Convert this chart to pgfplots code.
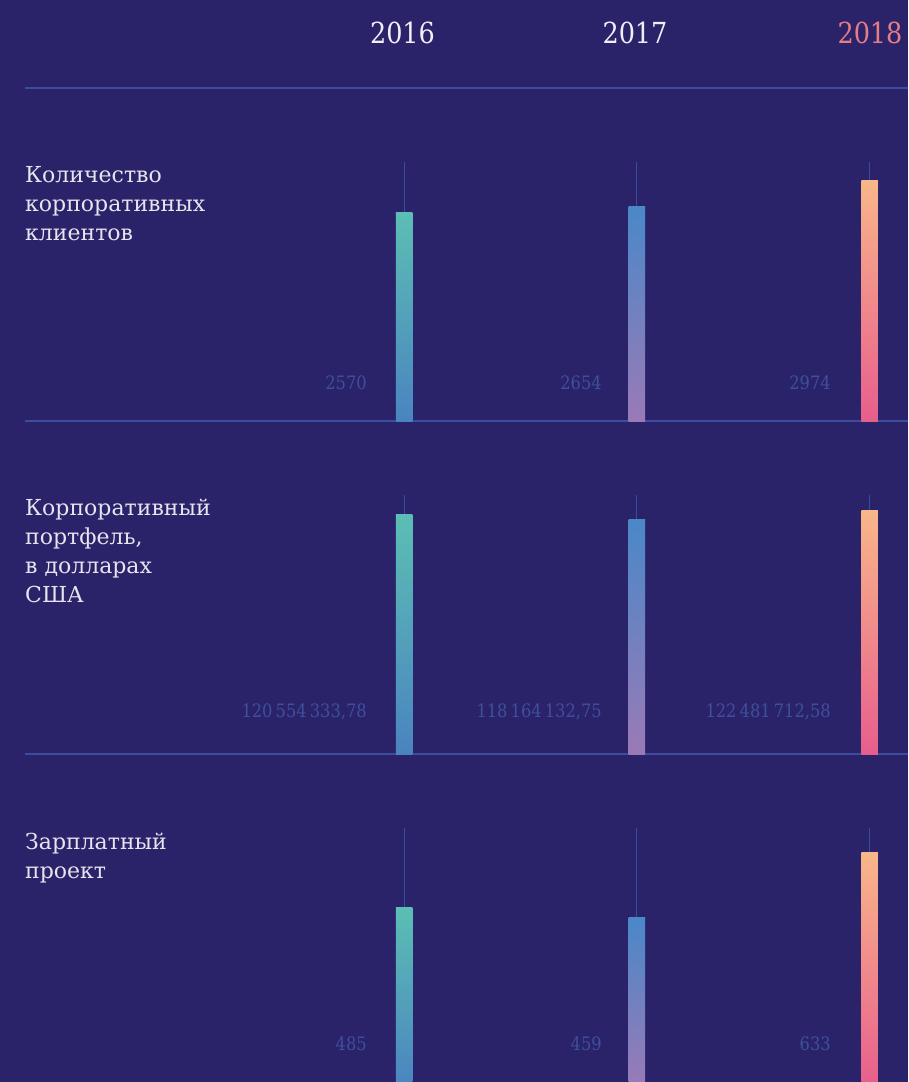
\documentclass[border=0pt]{standalone}
\usepackage{pgfplots}
\pgfplotsset{compat=1.18}
\usepackage{fontspec}
\setmainfont{DejaVu Serif}[FakeStretch=0.88]
\newfontfamily\lblfamily{DejaVu Serif}
\definecolor{bg}{HTML}{2A2369}
\definecolor{rule}{HTML}{3C4C9E}
\definecolor{guide}{HTML}{3A4C9A}
\definecolor{val}{HTML}{3F4F9C}
\definecolor{lbl}{HTML}{E6E4EE}
\definecolor{yr}{HTML}{F0EEF6}
\definecolor{yrhi}{HTML}{E57C86}
\definecolor{atop}{HTML}{5CBEB4}
\definecolor{abot}{HTML}{4A84C0}
\definecolor{btop}{HTML}{4A88C8}
\definecolor{bbot}{HTML}{9A7AB6}
\definecolor{ctop}{HTML}{F9B68A}
\definecolor{cbot}{HTML}{E75E8C}
\pgfplotsset{
  row/.style={scale only axis, width=883pt, height=259pt, xmin=-1.628, xmax=2.165,
    ymin=0, hide axis, clip=false, anchor=south west},
  gl/.style={guide, line width=1pt, forget plot},
  barA/.style={ybar, bar width=16.5pt, bar shift=0pt, draw=none, top color=atop, bottom color=abot},
  barB/.style={ybar, bar width=16.5pt, bar shift=0pt, draw=none, top color=btop, bottom color=bbot},
  barC/.style={ybar, bar width=16.5pt, bar shift=0pt, draw=none, top color=ctop, bottom color=cbot},
}
\newcommand{\valfont}{\fontsize{18.5}{22}\selectfont}
\newcommand{\lblfont}{\lblfamily\fontsize{22}{29}\selectfont}
\begin{document}
\begin{tikzpicture}
\fill[bg] (0,0) rectangle (908pt,-1082pt);
% years
\node[anchor=base, text=yr, font=\fontsize{29}{32}\selectfont] at (402.5pt,-43pt) {2016};
\node[anchor=base, text=yr, font=\fontsize{29}{32}\selectfont] at (635pt,-43pt) {2017};
\node[anchor=base, text=yrhi, font=\fontsize{29}{32}\selectfont] at (870pt,-43pt) {2018};
\draw[rule, line width=1.2pt] (25pt,-88pt) -- (908pt,-88pt);
\draw[rule, line width=1.2pt] (25pt,-421pt) -- (908pt,-421pt);
\draw[rule, line width=1.2pt] (25pt,-754pt) -- (908pt,-754pt);
% row labels
\node[anchor=base west, text=lbl, font=\lblfont, inner sep=0pt] at (25pt,-182pt) {Количество};
\node[anchor=base west, text=lbl, font=\lblfont, inner sep=0pt] at (25pt,-211pt) {корпоративных};
\node[anchor=base west, text=lbl, font=\lblfont, inner sep=0pt] at (25pt,-240pt) {клиентов};
\node[anchor=base west, text=lbl, font=\lblfont, inner sep=0pt] at (25pt,-515pt) {Корпоративный};
\node[anchor=base west, text=lbl, font=\lblfont, inner sep=0pt] at (25pt,-544pt) {портфель,};
\node[anchor=base west, text=lbl, font=\lblfont, inner sep=0pt] at (25pt,-573pt) {в долларах};
\node[anchor=base west, text=lbl, font=\lblfont, inner sep=0pt] at (25pt,-602pt) {США};
\node[anchor=base west, text=lbl, font=\lblfont, inner sep=0pt] at (25pt,-849pt) {Зарплатный};
\node[anchor=base west, text=lbl, font=\lblfont, inner sep=0pt] at (25pt,-878pt) {проект};
% row 1
\begin{axis}[row, at={(25pt,-421pt)}, ymax=3200]
\addplot[gl] coordinates {(0,2570) (0,3200)};
\addplot[gl] coordinates {(1,2654) (1,3200)};
\addplot[gl] coordinates {(2,2974) (2,3200)};
\addplot[barA] coordinates {(0,2570)};
\addplot[barB] coordinates {(1,2654)};
\addplot[barC] coordinates {(2,2974)};
\end{axis}
% row 2 (millions USD)
\begin{axis}[row, at={(25pt,-754pt)}, ymax=130.5]
\addplot[gl] coordinates {(0,120.554) (0,130.5)};
\addplot[gl] coordinates {(1,118.164) (1,130.5)};
\addplot[gl] coordinates {(2,122.482) (2,130.5)};
\addplot[barA] coordinates {(0,120.554)};
\addplot[barB] coordinates {(1,118.164)};
\addplot[barC] coordinates {(2,122.482)};
\end{axis}
% row 3
\begin{axis}[row, at={(25pt,-1087pt)}, ymax=700]
\addplot[gl] coordinates {(0,485) (0,700)};
\addplot[gl] coordinates {(1,459) (1,700)};
\addplot[gl] coordinates {(2,633) (2,700)};
\addplot[barA] coordinates {(0,485)};
\addplot[barB] coordinates {(1,459)};
\addplot[barC] coordinates {(2,633)};
\end{axis}
% value labels
\node[anchor=base east, text=val, font=\valfont, inner sep=0pt] at (367pt,-389pt) {2570};
\node[anchor=base east, text=val, font=\valfont, inner sep=0pt] at (602pt,-389pt) {2654};
\node[anchor=base east, text=val, font=\valfont, inner sep=0pt] at (831pt,-389pt) {2974};
\node[anchor=base east, text=val, font=\valfont, inner sep=0pt] at (367pt,-717pt) {120\,554\,333,78};
\node[anchor=base east, text=val, font=\valfont, inner sep=0pt] at (602pt,-717pt) {118\,164\,132,75};
\node[anchor=base east, text=val, font=\valfont, inner sep=0pt] at (831pt,-717pt) {122\,481\,712,58};
\node[anchor=base east, text=val, font=\valfont, inner sep=0pt] at (367pt,-1050pt) {485};
\node[anchor=base east, text=val, font=\valfont, inner sep=0pt] at (602pt,-1050pt) {459};
\node[anchor=base east, text=val, font=\valfont, inner sep=0pt] at (831pt,-1050pt) {633};
\pgfresetboundingbox
\path[use as bounding box] (0,0) rectangle (908pt,-1082pt);
\end{tikzpicture}
\end{document}
